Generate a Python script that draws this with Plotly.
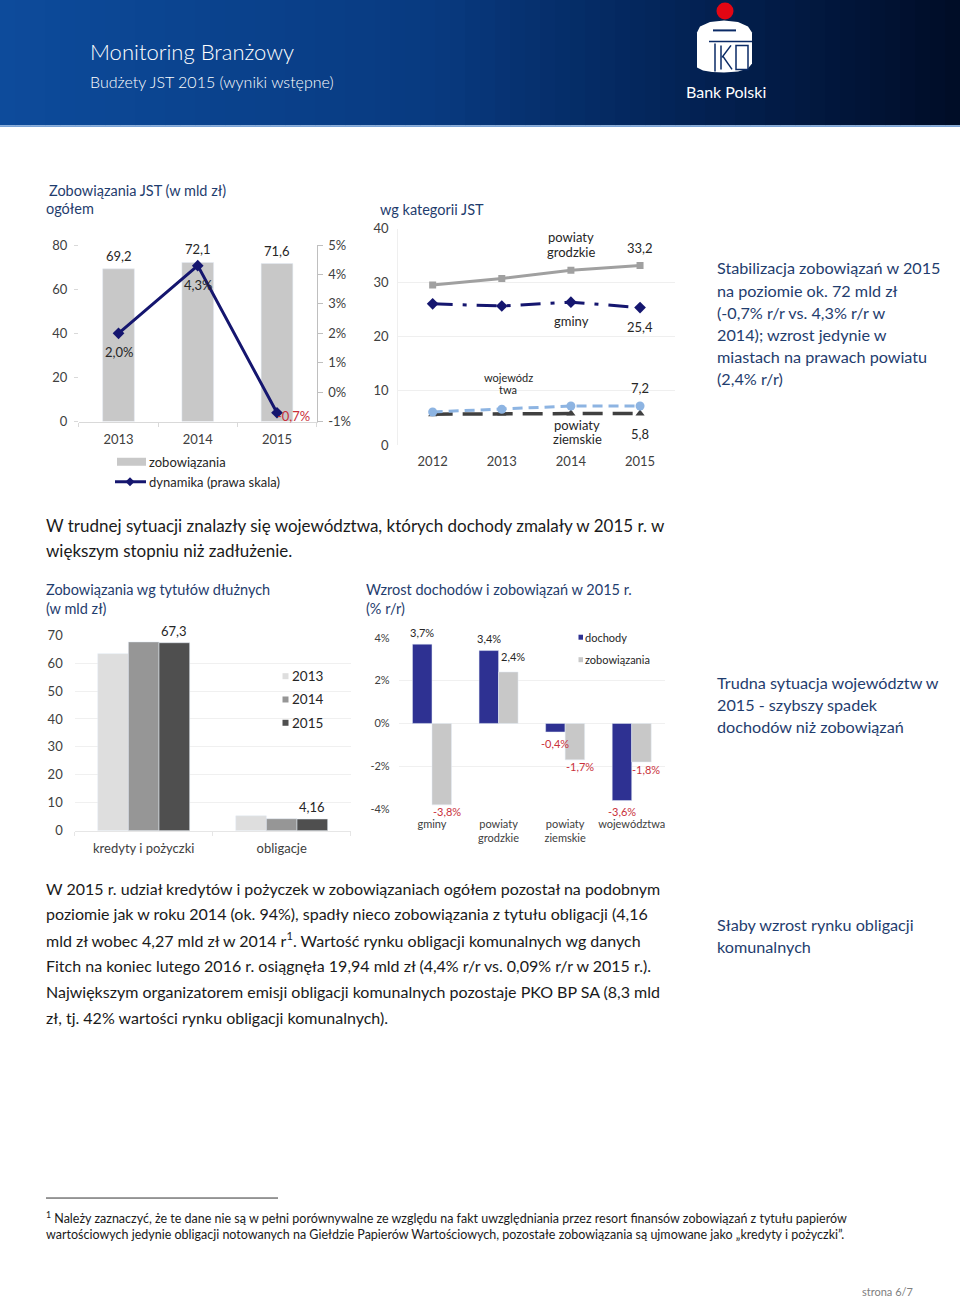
import plotly.graph_objects as go

W, H = 960, 1300
SY, OY = 0.988, 8.7   # compensation for the photographing offset
def px(x): return x / W
def py(y): return 1 - (y / SY - OY) / H

FONT = "Lato"
HEAD = "#1f3d6e"
TXT = "#262626"
RED = "#c9303a"
NAVY = "#15166f"

# ---------------- data ----------------
# chart 1: Zobowiązania JST ogółem
years1 = ["2013", "2014", "2015"]
zobowiazania = [69.2, 72.1, 71.6]
dynamika = [2.0, 4.3, -0.7]
pct_ticks1 = [-1, 0, 1, 2, 3, 4, 5]

# chart 2: wg kategorii JST
years2 = ["2012", "2013", "2014", "2015"]
pow_grodzkie = [29.6, 30.8, 32.3, 33.2]
gminy = [26.1, 25.7, 26.4, 25.4]
wojewodztwa = [6.1, 6.6, 7.2, 7.2]
pow_ziemskie = [5.7, 5.8, 5.8, 5.8]

# chart 3: wg tytułów dłużnych
tytuly = ["kredyty i pożyczki", "obligacje"]
dl_2013 = [63.4, 5.3]
dl_2014 = [67.6, 4.27]
dl_2015 = [67.3, 4.16]

# chart 4: wzrost dochodów i zobowiązań 2015
kategorie = ["gminy", "powiaty<br>grodzkie", "powiaty<br>ziemskie", "województwa"]
dochody = [3.7, 3.4, -0.4, -3.6]
zob_rr = [-3.8, 2.4, -1.7, -1.8]
pct_ticks4 = [-4, -2, 0, 2, 4]


def pl(v, d=1):
    return f"{v:.{d}f}".replace(".", ",")


fig = go.Figure()
shapes = []
ann = []


def T(x, y, text, size=13, color=TXT, xanchor="left", family=FONT, weight=None):
    f = dict(size=size, color=color, family=family)
    if weight:
        f["weight"] = weight
    dx = -2 if xanchor == "left" else (2 if xanchor == "right" else 0)
    ann.append(dict(x=px(x + dx), y=py(y), xref="paper", yref="paper", text=text,
                    showarrow=False, xanchor=xanchor, yanchor="middle", font=f))


def rect(x0, y0, x1, y1, color, line=0, lcolor=None):
    shapes.append(dict(type="rect", xref="paper", yref="paper",
                       x0=px(x0), x1=px(x1), y0=py(y1), y1=py(y0),
                       fillcolor=color, line=dict(width=line, color=lcolor or color)))


def seg(x0, y0, x1, y1, color, width=1, dash=None):
    shapes.append(dict(type="line", xref="paper", yref="paper",
                       x0=px(x0), x1=px(x1), y0=py(y0), y1=py(y1),
                       line=dict(color=color, width=width, dash=dash)))


def poly(pts, color, lcolor=None, lw=0):
    p = "M " + " L ".join(f"{px(a):.5f},{py(b):.5f}" for a, b in pts) + " Z"
    shapes.append(dict(type="path", xref="paper", yref="paper", path=p,
                       fillcolor=color, line=dict(width=lw, color=lcolor or color)))


# ---------------- header ----------------
stops = [(0.0, (13, 75, 155)), (0.45, (8, 58, 128)), (0.72, (3, 34, 84)), (1.0, (0, 12, 38))]
def grad(t):
    for (t0, c0), (t1, c1) in zip(stops[:-1], stops[1:]):
        if t0 <= t <= t1:
            f = (t - t0) / (t1 - t0)
            return "rgb(%d,%d,%d)" % tuple(round(a + (b - a) * f) for a, b in zip(c0, c1))
    return "rgb(0,12,38)"
N = 64
for i in range(N):
    rect(i * W / N, -12, (i + 1) * W / N + 0.6, 126, grad((i + 0.5) / N))
rect(0, 126, 960, 127.6, "#7aa3d6")

T(90, 52, "Monitoring Branżowy", size=22, color="white", weight=300)
T(90, 82, "Budżety JST 2015 (wyniki wstępne)", size=16, color="white", weight=300)
# logo
shapes.append(dict(type="circle", xref="paper", yref="paper",
                   x0=px(716.5), x1=px(733.5), y0=py(20), y1=py(3),
                   fillcolor="#e30613", line=dict(width=0)))
poly([(697, 33), (700, 27), (710, 22.5), (724, 21), (738, 22.5), (748, 27), (752, 33),
      (752, 64), (748, 69), (738, 72), (724, 73), (712, 72.5), (703, 71), (697, 68)], "white")
navy_logo = "#0a2a66"
seg(713, 31, 736, 31, navy_logo, 2)
seg(709, 42, 752, 42, navy_logo, 1.5)
seg(715, 44, 715, 72, navy_logo, 1.5)
seg(721, 46, 721, 70, navy_logo, 1.5)
seg(722, 58, 731, 46, navy_logo, 1.5)
seg(723, 57, 732, 70, navy_logo, 1.5)
shapes.append(dict(type="rect", xref="paper", yref="paper", x0=px(736), x1=px(748),
                   y0=py(70), y1=py(46), fillcolor="white", line=dict(width=1.5, color=navy_logo)))
T(726, 92, "Bank Polski", size=16, color="white", xanchor="center")

# ---------------- chart 1 ----------------
T(49, 191, "Zobowiązania JST (w mld zł)", size=14.5, color=HEAD)
T(46, 209, "ogółem", size=14.5, color=HEAD)
fig.add_trace(go.Bar(x=years1, y=zobowiazania, marker_color="#c8c8c8", width=0.4,
                     xaxis="x", yaxis="y", showlegend=False, hoverinfo="skip"))
fig.add_trace(go.Scatter(x=years1, y=dynamika, mode="lines+markers", xaxis="x", yaxis="y2",
                         line=dict(color=NAVY, width=3),
                         marker=dict(symbol="diamond", size=9, color=NAVY),
                         showlegend=False, hoverinfo="skip"))
for i, v in enumerate(zobowiazania):
    ann.append(dict(x=i, y=v, xref="x", yref="y", text=pl(v), showarrow=False,
                    yshift=13, font=dict(size=13, color=TXT, family=FONT)))
for i, v in enumerate(dynamika):
    if v < 0:
        ann.append(dict(x=i, y=v, xref="x", yref="y2", text=pl(v) + "%", showarrow=False,
                        xanchor="left", xshift=-2, yshift=-3,
                        font=dict(size=13, color=RED, family=FONT)))
    else:
        ann.append(dict(x=i, y=v, xref="x", yref="y2", text=pl(v) + "%", showarrow=False,
                        yshift=-19, font=dict(size=13, color=TXT, family=FONT)))
rect(117, 458.5, 146, 466.5, "#c8c8c8")
T(149, 462.5, "zobowiązania", size=13)
seg(115, 482.5, 146, 482.5, NAVY, 3)
poly([(130, 478), (134.5, 482.5), (130, 487), (125.5, 482.5)], NAVY)
T(149, 482.5, "dynamika (prawa skala)", size=13)

# ---------------- chart 2 ----------------
T(380, 210, "wg kategorii JST", size=14.5, color=HEAD)
fig.add_trace(go.Scatter(x=years2, y=pow_grodzkie, mode="lines+markers", xaxis="x2", yaxis="y3",
                         line=dict(color="#a0a0a0", width=3),
                         marker=dict(symbol="square", size=7, color="#a0a0a0"),
                         showlegend=False, hoverinfo="skip"))
fig.add_trace(go.Scatter(x=years2, y=gminy, mode="lines+markers", xaxis="x2", yaxis="y3",
                         line=dict(color=NAVY, width=3, dash="20px,10px,4px,10px"),
                         marker=dict(symbol="diamond", size=9, color=NAVY),
                         showlegend=False, hoverinfo="skip"))
fig.add_trace(go.Scatter(x=years2, y=pow_ziemskie, mode="lines+markers", xaxis="x2", yaxis="y3",
                         line=dict(color="#404040", width=3.5, dash="20px,10px"),
                         marker=dict(symbol="triangle-up", size=8, color="#404040"),
                         showlegend=False, hoverinfo="skip"))
fig.add_trace(go.Scatter(x=years2, y=wojewodztwa, mode="lines+markers", xaxis="x2", yaxis="y3",
                         line=dict(color="#8db4e2", width=3, dash="10px,6px"),
                         marker=dict(symbol="circle", size=9, color="#8db4e2"),
                         showlegend=False, hoverinfo="skip"))
last = len(years2) - 1
for series, shift in [(pow_grodzkie, 17), (gminy, -19), (wojewodztwa, 18), (pow_ziemskie, -20)]:
    ann.append(dict(x=last, y=series[-1], xref="x2", yref="y3", text=pl(series[-1]),
                    showarrow=False, yshift=shift, font=dict(size=13, color=TXT, family=FONT)))
T(571, 238, "powiaty", size=13, xanchor="center")
T(571, 252.5, "grodzkie", size=13, xanchor="center")
T(571, 322, "gminy", size=13, xanchor="center")
T(508, 378, "wojewódz", size=11, xanchor="center")
T(508, 390, "twa", size=11, xanchor="center")
T(577, 426, "powiaty", size=13, xanchor="center")
T(577, 440, "ziemskie", size=13, xanchor="center")

# ---------------- middle heading ----------------
T(46, 526, "W trudnej sytuacji znalazły się województwa, których dochody zmalały w 2015 r. w", size=17, color="#1a1a1a")
T(46, 551, "większym stopniu niż zadłużenie.", size=17, color="#1a1a1a")

# ---------------- chart 3 ----------------
T(46, 590, "Zobowiązania wg tytułów dłużnych", size=14.5, color=HEAD)
T(46, 609, "(w mld zł)", size=14.5, color=HEAD)
bw3 = 0.222
for vals, col, off in [(dl_2013, "#dedede", -1.5 * bw3),
                       (dl_2014, "#969696", -0.5 * bw3),
                       (dl_2015, "#4f4f4f", 0.5 * bw3)]:
    fig.add_trace(go.Bar(x=tytuly, y=vals, marker_color=col, width=bw3, offset=off,
                         xaxis="x3", yaxis="y4", showlegend=False, hoverinfo="skip"))
for i, v in enumerate(dl_2015):
    ann.append(dict(x=i + bw3, y=v, xref="x3", yref="y4", text=pl(v, 1 if v > 10 else 2),
                    showarrow=False, yshift=12, font=dict(size=13, color=TXT, family=FONT)))
for j, (lab, col) in enumerate([("2013", "#dedede"), ("2014", "#969696"), ("2015", "#4f4f4f")]):
    yy = 677 + j * 23.3
    rect(282.5, yy - 3, 288.5, yy + 3, col)
    T(292, yy, lab, size=13.5)

# ---------------- chart 4 ----------------
T(366, 590, "Wzrost dochodów i zobowiązań w 2015 r.", size=14.5, color=HEAD)
T(366, 609, "(% r/r)", size=14.5, color=HEAD)
bw4 = 0.293
fig.add_trace(go.Bar(x=kategorie, y=dochody, marker_color="#2e3192", width=bw4, offset=-bw4,
                     xaxis="x4", yaxis="y5", showlegend=False, hoverinfo="skip"))
fig.add_trace(go.Bar(x=kategorie, y=zob_rr, marker_color="#c8c8c8", width=bw4, offset=0,
                     xaxis="x4", yaxis="y5", showlegend=False, hoverinfo="skip"))
for i, v in enumerate(dochody):
    ann.append(dict(x=i - bw4 / 2, y=v, xref="x4", yref="y5", text=pl(v) + "%", showarrow=False,
                    yshift=12 if v > 0 else -11,
                    font=dict(size=11, color=TXT if v > 0 else RED, family=FONT)))
for i, v in enumerate(zob_rr):
    ann.append(dict(x=i + bw4 / 2, y=v, xref="x4", yref="y5", text=pl(v) + "%", showarrow=False,
                    xshift=5, yshift=15 if v > 0 else -7,
                    font=dict(size=11, color=TXT if v > 0 else RED, family=FONT)))
rect(578.5, 635.5, 583, 640.5, "#2e3192")
T(585, 638, "dochody", size=11)
rect(578.5, 658, 583, 663, "#c8c8c8")
T(585, 660.5, "zobowiązania", size=11)

# ---------------- right side notes ----------------
for k, line in enumerate(["Stabilizacja zobowiązań w 2015", "na poziomie ok. 72 mld zł",
                          "(-0,7% r/r vs. 4,3% r/r w", "2014); wzrost jedynie w",
                          "miastach na prawach powiatu", "(2,4% r/r)"]):
    T(717, 268.5 + k * 22.2, line, size=16.2, color=HEAD)
for k, line in enumerate(["Trudna sytuacja województw w", "2015 - szybszy spadek",
                          "dochodów niż zobowiązań"]):
    T(717, 683 + k * 22.2, line, size=16.2, color=HEAD)
for k, line in enumerate(["Słaby wzrost rynku obligacji", "komunalnych"]):
    T(717, 925 + k * 22.2, line, size=16.2, color=HEAD)

# ---------------- paragraph ----------------
para = ["W 2015 r. udział kredytów i pożyczek w zobowiązaniach ogółem pozostał na podobnym",
        "poziomie jak w roku 2014 (ok. 94%), spadły nieco zobowiązania z tytułu obligacji (4,16",
        "mld zł wobec 4,27 mld zł w 2014 r<sup>1</sup>. Wartość rynku obligacji komunalnych wg danych",
        "Fitch na koniec lutego 2016 r. osiągnęła 19,94 mld zł (4,4% r/r vs. 0,09% r/r w 2015 r.).",
        "Największym organizatorem emisji obligacji komunalnych pozostaje PKO BP SA (8,3 mld",
        "zł, tj. 42% wartości rynku obligacji komunalnych)."]
for k, line in enumerate(para):
    T(46, 889 + k * 25.8, line, size=16, color="#1a1a1a")

# ---------------- footnote ----------------
seg(46, 1199, 278, 1199, "#333333", 1)
T(46, 1218, "<sup>1</sup> Należy zaznaczyć, że te dane nie są w pełni porównywalne ze względu na fakt uwzględniania przez resort finansów zobowiązań z tytułu papierów",
  size=12.5, color="#1a1a1a")
T(46, 1235, "wartościowych jedynie obligacji notowanych na Giełdzie Papierów Wartościowych, pozostałe zobowiązania są ujmowane jako „kredyty i pożyczki”.",
  size=12.5, color="#1a1a1a")
T(913, 1292, "strona 6/7", size=11, color="#808080", xanchor="right")

# ---------------- layout ----------------
tick = dict(family=FONT, color="#404040")
fig.update_layout(
    width=W, height=H, margin=dict(l=0, r=0, t=0, b=0),
    paper_bgcolor="white", plot_bgcolor="white", barmode="group",
    font=dict(family=FONT, color=TXT), showlegend=False,
    shapes=shapes, annotations=ann,
    xaxis=dict(domain=[px(78.9), px(316.6)], anchor="y", type="category", range=[-0.5, 2.5],
               tickfont=dict(size=13, **tick), showline=True, linecolor="#d9d9d9",
               ticks="outside", tickson="boundaries", ticklen=4, tickcolor="#d9d9d9",
               showgrid=False, ticklabelstandoff=6),
    yaxis=dict(domain=[py(422.3), py(245.7)], range=[0, 80], tickvals=[0, 20, 40, 60, 80],
               tickfont=dict(size=13, **tick), showgrid=False, zeroline=False,
               ticks="outside", ticklen=4, tickcolor="#d9d9d9", showline=False, ticklabelstandoff=4),
    yaxis2=dict(domain=[py(422.3), py(245.7)], overlaying="y", side="right", anchor="x",
                range=[-1, 5], tickvals=pct_ticks1, ticktext=[f"{v}%" for v in pct_ticks1],
                tickfont=dict(size=13, **tick), showgrid=False, zeroline=False,
                showline=True, linecolor="#bfbfbf", ticks="outside", ticklen=5, tickcolor="#bfbfbf",
                ticklabelstandoff=3),
    xaxis2=dict(domain=[px(398.1), px(674.6)], anchor="y3", type="category", range=[-0.5, 3.5],
                tickfont=dict(size=13, **tick), showline=False, showgrid=False, ticks="",
                ticklabelstandoff=7),
    yaxis3=dict(domain=[py(445.7), py(229.3)], anchor="x2", range=[0, 40], dtick=10,
                tickfont=dict(size=13, **tick), showgrid=True, gridcolor="#efefef",
                zeroline=False, showline=True, linecolor="#efefef", ticklabelstandoff=6),
    xaxis3=dict(domain=[px(74.7), px(350.7)], anchor="y4", type="category", range=[-0.5, 1.5],
                tickfont=dict(size=13, **tick), showline=True, linecolor="#e6e6e6",
                ticks="outside", tickson="boundaries", ticklen=4, tickcolor="#e6e6e6", showgrid=False,
                ticklabelstandoff=6),
    yaxis4=dict(domain=[py(831.5), py(636)], anchor="x3", range=[0, 70], dtick=10,
                tickfont=dict(size=13, **tick), showgrid=True, gridcolor="#f0f0f0",
                zeroline=False, ticklabelstandoff=11),
    xaxis4=dict(domain=[px(398.7), px(665)], anchor="y5", type="category", range=[-0.5, 3.5],
                tickfont=dict(size=11, **tick), showline=False, showgrid=False, ticks="",
                ticklabelstandoff=7),
    yaxis5=dict(domain=[py(810), py(638.5)], anchor="x4", range=[-4, 4], tickvals=pct_ticks4,
                ticktext=[f"{v}%" for v in pct_ticks4], tickfont=dict(size=11, **tick),
                showgrid=True, gridcolor="#f0f0f0", zeroline=False, ticklabelstandoff=8),
)

post = ("var d=document.getElementById('{plot_id}');"
        "d.style.position='fixed';d.style.top='0px';d.style.left='0px';"
        "document.body.style.margin='0px';document.body.style.padding='0px';"
        "document.documentElement.style.overflow='hidden';document.body.style.overflow='hidden';")
fig.write_html("out.html", config={"displayModeBar": False}, post_script=post)
